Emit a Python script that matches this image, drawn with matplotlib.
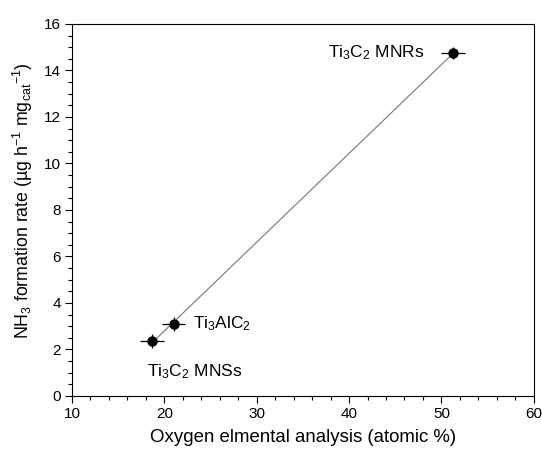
import matplotlib
matplotlib.use('Agg')
import matplotlib.pyplot as plt
from matplotlib.ticker import MultipleLocator
import numpy as np

plt.rcParams['font.family'] = ['Liberation Sans', 'DejaVu Sans']
plt.rcParams['mathtext.fontset'] = 'custom'
plt.rcParams['mathtext.rm'] = 'Liberation Sans'
plt.rcParams['mathtext.it'] = 'Liberation Sans'
plt.rcParams['mathtext.default'] = 'regular'

# data
samples = ['Ti$_3$C$_2$ MNSs', 'Ti$_3$AlC$_2$', 'Ti$_3$C$_2$ MNRs']
oxygen = [18.7, 21.0, 51.3]
oxygen_err = [1.3, 1.25, 1.3]
nh3_rate = [2.37, 3.1, 14.75]
nh3_err = [0.3, 0.3, 0.25]

fig = plt.figure(figsize=(5.42, 4.51), dpi=100)
ax = fig.add_axes([0.1328, 0.122, 0.852, 0.825])

# linear fit through the points
k, b = np.polyfit(oxygen, nh3_rate, 1)
xfit = np.array([min(oxygen), max(oxygen)])
ax.plot(xfit, k * xfit + b, color='#777777', lw=0.8, zorder=1)

ax.errorbar(oxygen, nh3_rate, xerr=oxygen_err, yerr=nh3_err, fmt='o',
            color='black', ms=6.5, elinewidth=0.9, capsize=0, zorder=3)

ax.text(37.7, 14.75, samples[2], fontsize=12.5, va='center', ha='left')
ax.text(23.1, 3.1, samples[1], fontsize=12.5, va='center', ha='left')
ax.text(18.1, 1.03, samples[0], fontsize=12.5, va='center', ha='left')

ax.set_xlim(10, 60)
ax.set_ylim(0, 16)
ax.xaxis.set_major_locator(MultipleLocator(10))
ax.xaxis.set_minor_locator(MultipleLocator(2))
ax.yaxis.set_major_locator(MultipleLocator(2))
ax.yaxis.set_minor_locator(MultipleLocator(0.5))
ax.tick_params(which='both', direction='out', top=False, right=False, labelsize=11)
ax.tick_params(which='major', length=5, width=0.8, pad=3)
ax.tick_params(which='minor', length=3, width=0.8)
for s in ax.spines.values():
    s.set_linewidth(0.8)

ax.set_xlabel('Oxygen elmental analysis (atomic %)', fontsize=13.4)
ax.set_ylabel('NH$_3$ formation rate (µg h$^{-1}$ mg$_{cat}$$^{-1}$)', fontsize=12.8)
ax.xaxis.set_label_coords(0.5, -0.09)
ax.yaxis.set_label_coords(-0.08, 0.525)

fig.savefig('out.png', dpi=100)
